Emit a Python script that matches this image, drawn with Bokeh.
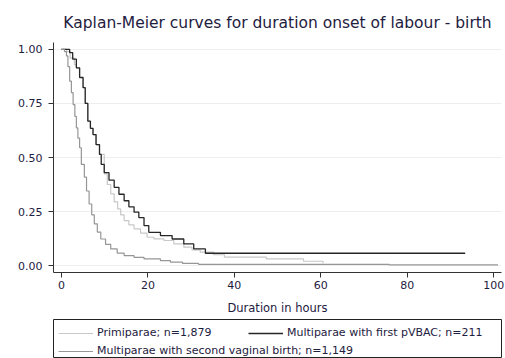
from bokeh.plotting import figure
from bokeh.layouts import column
from bokeh.models import Legend, LegendItem, FixedTicker, NumeralTickFormatter, Range1d
from bokeh.embed import file_html
from bokeh.resources import INLINE

# Primiparae; n=1,879
prim_t = [0, 1.2, 2.0, 3.0, 3.45, 4.2, 5.0, 5.5, 6.1, 6.7, 7.3, 8.0, 8.8, 9.9, 10.6, 11.4, 12.2, 13.0, 13.7, 14.5, 15.6, 16.8, 18.3, 19.8, 21.4, 23.7, 26.0, 28.3, 30.2, 32.1, 35.2, 37.7, 47.4, 56.0, 60.5]
prim_s = [1.0, 0.99, 0.96, 0.93, 0.915, 0.87, 0.823, 0.75, 0.668, 0.635, 0.606, 0.56, 0.514, 0.424, 0.375, 0.332, 0.295, 0.262, 0.235, 0.208, 0.188, 0.17, 0.15, 0.131, 0.124, 0.116, 0.1, 0.085, 0.072, 0.062, 0.05, 0.039, 0.031, 0.02, 0.011]

# Multiparae with first pVBAC; n=211
vbac_t = [0, 1.9, 2.6, 3.45, 4.2, 5.0, 5.5, 6.1, 6.7, 7.3, 8.0, 8.8, 9.2, 9.9, 11.0, 12.2, 13.3, 14.5, 15.6, 16.8, 17.9, 19.1, 20.2, 22.9, 25.6, 28.3, 30.6, 33.3, 93.4]
vbac_s = [1.0, 0.985, 0.955, 0.915, 0.87, 0.823, 0.75, 0.668, 0.635, 0.606, 0.56, 0.514, 0.468, 0.43, 0.395, 0.362, 0.33, 0.30, 0.272, 0.247, 0.222, 0.185, 0.154, 0.139, 0.123, 0.10, 0.077, 0.057, 0.057]

# Multiparae with second vaginal birth; n=1,149
sec_t = [0, 0.7, 1.15, 1.5, 1.9, 2.3, 2.7, 3.1, 3.45, 3.8, 4.2, 4.6, 5.3, 5.8, 6.4, 7.0, 7.6, 8.3, 9.1, 10.2, 11.4, 12.9, 14.5, 16.8, 19.1, 22.9, 25.2, 28.0, 31.7, 75.8, 101.0]
sec_s = [1.0, 0.99, 0.97, 0.92, 0.853, 0.80, 0.745, 0.69, 0.637, 0.59, 0.545, 0.468, 0.409, 0.345, 0.285, 0.235, 0.193, 0.155, 0.123, 0.098, 0.077, 0.058, 0.046, 0.038, 0.031, 0.023, 0.016, 0.01, 0.006, 0.003, 0.003]

x_ticks = [0, 20, 40, 60, 80, 100]
y_ticks = [0.0, 0.25, 0.5, 0.75, 1.0]

title_text = "Kaplan-Meier curves for duration onset of labour - birth"
x_label = "Duration in hours"
labels = ["Primiparae; n=1,879", "Multiparae with first pVBAC; n=211",
          "Multiparae with second vaginal birth; n=1,149"]

FONT = "DejaVu Sans"
TXT = "#1e2040"
C_PRIM = "#c8c8c8"
C_VBAC = "#262626"
C_SEC = "#969696"

p = figure(width=505, height=318, output_backend="svg", toolbar_location=None,
           x_range=Range1d(-1.84, 101.8), y_range=Range1d(-0.032, 1.032),
           min_border_left=49, min_border_right=4, min_border_top=42, min_border_bottom=46)
p.outline_line_color = None

p.title.text = title_text
p.title.align = "center"
p.title.vertical_align = "middle"
p.title.text_font = FONT
p.title.text_font_size = "15.5px"
p.title.text_font_style = "normal"
p.title.text_color = TXT
p.title.standoff = 20
p.title.offset = 5

p.step(prim_t, prim_s, mode="after", line_color=C_PRIM, line_width=1.2)
p.step(vbac_t, vbac_s, mode="after", line_color=C_VBAC, line_width=1.3)
p.step(sec_t, sec_s, mode="after", line_color=C_SEC, line_width=1.2)

for ax in (p.xaxis[0], p.yaxis[0]):
    ax.axis_line_color = "#333333"
    ax.major_tick_line_color = "#333333"
    ax.major_tick_out = 5
    ax.major_tick_in = 0
    ax.minor_tick_line_color = None
    ax.major_label_text_font = FONT
    ax.major_label_text_font_size = "11px"
    ax.major_label_text_color = TXT
    ax.axis_label_text_font = FONT
    ax.axis_label_text_font_size = "11.5px"
    ax.axis_label_text_font_style = "normal"
    ax.axis_label_text_color = TXT

p.xaxis[0].ticker = FixedTicker(ticks=x_ticks)
p.yaxis[0].ticker = FixedTicker(ticks=y_ticks)
p.yaxis[0].formatter = NumeralTickFormatter(format="0.00")
p.yaxis[0].major_label_standoff = 6
p.xaxis[0].major_label_standoff = 3
p.xaxis[0].axis_label = x_label
p.xaxis[0].axis_label_standoff = 9

p.xgrid.grid_line_color = None
p.ygrid.grid_line_color = "#eeeeee"
p.ygrid.ticker = FixedTicker(ticks=y_ticks)

# legend panel (its frame outline is the bordered legend box)
lg = figure(width=505, height=40, output_backend="svg", toolbar_location=None,
            x_range=Range1d(0, 1), y_range=Range1d(0, 1),
            x_axis_type=None, y_axis_type=None,
            min_border_left=53, min_border_right=4, min_border_top=1, min_border_bottom=1)
lg.outline_line_color = "#222222"
lg.outline_line_width = 1
lg.xgrid.grid_line_color = None
lg.ygrid.grid_line_color = None
# same series, hidden: only used as legend keys
k_prim = lg.step(prim_t, prim_s, mode="after", line_color=C_PRIM, line_width=1.2, visible=False)
k_vbac = lg.step(vbac_t, vbac_s, mode="after", line_color=C_VBAC, line_width=1.3, visible=False)
k_sec = lg.step(sec_t, sec_s, mode="after", line_color=C_SEC, line_width=1.2, visible=False)

def make_legend(label, rend, loc):
    L = Legend(items=[LegendItem(label=label, renderers=[rend])], location=loc)
    L.border_line_color = None
    L.background_fill_alpha = 0
    L.inactive_fill_alpha = 0
    L.label_text_font = FONT
    L.label_text_font_size = "11px"
    L.label_text_color = TXT
    L.glyph_width = 35
    L.glyph_height = 12
    L.label_height = 12
    L.label_standoff = 4
    L.padding = 0
    L.margin = 0
    L.spacing = 0
    L.click_policy = "none"
    return L

lg.add_layout(make_legend(labels[0], k_prim, (5, 18)))
lg.add_layout(make_legend(labels[1], k_vbac, (195, 18)))
lg.add_layout(make_legend(labels[2], k_sec, (5, 0)))

open("out.html", "w").write(file_html(column(p, lg, spacing=0), INLINE))
